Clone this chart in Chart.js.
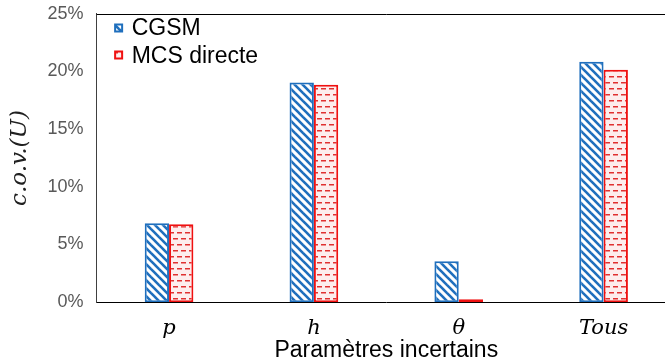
<!DOCTYPE html>
<html>
<head>
<meta charset="utf-8">
<script src="https://cdn.jsdelivr.net/npm/chart.js@4.4.1/dist/chart.umd.min.js"></script>
<style>
  html, body { margin: 0; padding: 0; background: #ffffff; overflow: hidden; }
  #wrap { width: 690px; height: 374px; margin-top: -10px; }
</style>
</head>
<body>
<div id="wrap"><canvas id="c" width="690" height="374"></canvas></div>
<script>
const categories = ['p', 'h', 'θ', 'Tous'];
const seriesNames = ['CGSM', 'MCS directe'];
const cgsmValues = [6.85, 19.05, 3.55, 20.85];
const mcsValues = [6.75, 18.85, 0.25, 20.15];
const yTicks = [0, 5, 10, 15, 20, 25];

const BLUE = '#1F6FBD';
const RED = '#F01010';

function stripePattern() {
  const s = 8;
  const c = document.createElement('canvas');
  c.width = s; c.height = s;
  const g = c.getContext('2d');
  g.fillStyle = '#ffffff';
  g.fillRect(0, 0, s, s);
  g.strokeStyle = BLUE;
  g.lineWidth = 2.6;
  g.lineCap = 'square';
  for (const o of [-s, 0, s]) {
    g.beginPath();
    g.moveTo(o, 0);
    g.lineTo(o + s, s);
    g.stroke();
  }
  return g.createPattern(c, 'repeat');
}

function dashPattern() {
  const w = 8, h = 12;
  const c = document.createElement('canvas');
  c.width = w; c.height = h;
  const g = c.getContext('2d');
  g.fillStyle = '#FDEDED';
  g.fillRect(0, 0, w, h);
  g.fillStyle = '#E03030';
  g.fillRect(1, 2, 5, 1.5);
  g.fillRect(5, 8, 3, 1.5);
  g.fillRect(0, 8, 2, 1.5);
  return g.createPattern(c, 'repeat');
}

const framePlugin = {
  id: 'frame',
  afterDraw(chart) {
    const a = chart.chartArea;
    const ctx = chart.ctx;
    ctx.save();
    ctx.strokeStyle = '#000000';
    ctx.lineWidth = 1;
    ctx.beginPath();
    ctx.moveTo(a.left, Math.round(a.top) + 0.5);
    ctx.lineTo(a.right, Math.round(a.top) + 0.5);
    ctx.stroke();
    ctx.restore();
  }
};

const insideLegend = {
  id: 'insideLegend',
  afterDraw(chart) {
    const a = chart.chartArea;
    const ctx = chart.ctx;
    ctx.save();
    ctx.font = '23px "Liberation Sans"';
    ctx.textBaseline = 'middle';
    ctx.textAlign = 'left';
    chart.data.datasets.forEach((ds, i) => {
      const cy = a.top + 14 + i * 27.5;
      const bx = a.left + 18.5, by = Math.round(cy - 4) + 0.5, bs = 7;
      ctx.fillStyle = ds.backgroundColor;
      ctx.fillRect(bx, by, bs, bs);
      ctx.strokeStyle = ds.borderColor;
      ctx.lineWidth = 2;
      ctx.strokeRect(bx, by, bs, bs);
      ctx.fillStyle = '#000000';
      ctx.fillText(ds.label, a.left + 35, cy + 1);
    });
    ctx.restore();
  }
};

new Chart(document.getElementById('c'), {
  type: 'bar',
  data: {
    labels: categories,
    datasets: [
      {
        label: seriesNames[0],
        data: cgsmValues,
        backgroundColor: stripePattern(),
        borderColor: BLUE,
        borderWidth: 2,
        borderSkipped: false
      },
      {
        label: seriesNames[1],
        data: mcsValues,
        backgroundColor: dashPattern(),
        borderColor: RED,
        borderWidth: 2,
        borderSkipped: false
      }
    ]
  },
  options: {
    responsive: false,
    animation: false,
    devicePixelRatio: 1,
    layout: { padding: { left: 6, right: 14, top: 0, bottom: 0 } },
    datasets: {
      bar: { categoryPercentage: 0.336, barPercentage: 1.0 }
    },
    scales: {
      x: {
        grid: { display: false, drawTicks: false },
        border: { display: true, color: '#000000', width: 1 },
        ticks: {
          color: '#000000',
          padding: 14,
          font: { family: 'DejaVu Serif', style: 'italic', size: 21 }
        },
        title: {
          display: true,
          text: 'Paramètres incertains',
          color: '#000000',
          padding: { top: -19, bottom: 0 },
          font: { family: 'Liberation Sans', size: 23 }
        }
      },
      y: {
        min: 0,
        max: 25,
        afterBuildTicks(axis) { axis.ticks = yTicks.map(v => ({ value: v })); },
        grid: { display: false, drawTicks: false },
        border: { display: true, color: '#404040', width: 1 },
        ticks: {
          color: '#595959',
          padding: 13,
          font: { family: 'Liberation Sans', size: 18 },
          callback: v => v + '%'
        },
        title: {
          display: true,
          text: 'c.o.v.(U)',
          color: '#202020',
          padding: { top: 0, bottom: 1 },
          font: { family: 'DejaVu Serif', style: 'italic', size: 23 }
        }
      }
    },
    plugins: {
      tooltip: { enabled: false },
      legend: { display: false }
    }
  },
  plugins: [framePlugin, insideLegend]
});
</script>
</body>
</html>
